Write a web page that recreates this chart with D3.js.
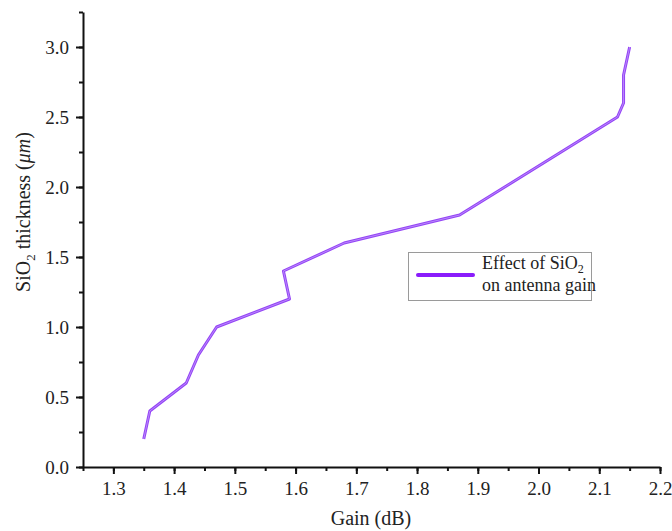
<!DOCTYPE html>
<html>
<head>
<meta charset="utf-8">
<script src="https://cdn.jsdelivr.net/npm/d3@7"></script>
<style>
  body { margin: 0; background: #fff; }
  svg text { font-family: "Liberation Serif", "Times New Roman", serif; fill: #222; }
</style>
</head>
<body>
<div id="chart"></div>
<script>
// gain (dB) vs SiO2 thickness (um)
const gain      = [1.35, 1.36, 1.42, 1.44, 1.47, 1.59, 1.58, 1.68, 1.87, 2.13, 2.14, 2.14, 2.15];
const thickness = [0.2, 0.4, 0.6, 0.8, 1.0, 1.2, 1.4, 1.6, 1.8, 2.5, 2.6, 2.8, 3.0];

const xTicks = [1.3, 1.4, 1.5, 1.6, 1.7, 1.8, 1.9, 2.0, 2.1, 2.2];
const yTicks = [0.0, 0.5, 1.0, 1.5, 2.0, 2.5, 3.0];

const WIDTH = 672;
const HEIGHT = 531;
const SERIF = '"Liberation Serif", "Times New Roman", serif';
const LINE_COLOR = '#9444f6';

document.addEventListener('DOMContentLoaded', function() {
  drawChart();
});

function drawChart()
{
  var svg = d3.select('#chart').append('svg')
    .attr('width', WIDTH)
    .attr('height', HEIGHT);

  var x = d3.scaleLinear().domain([1.25, 2.2]).range([83, 660]);
  var y = d3.scaleLinear().domain([0, 3.25]).range([467, 12]);

  // minor ticks first
  var xMinor = d3.range(1.25, 2.2001, 0.05);
  var yMinor = d3.range(0, 3.2501, 0.25);

  svg.append('g')
    .attr('transform', 'translate(0,467)')
    .call(d3.axisBottom(x).tickValues(xMinor).tickSize(4).tickFormat(''))
    .call(function(g) { g.select('.domain').remove(); })
    .selectAll('line').attr('stroke', '#111').attr('stroke-width', 2);

  svg.append('g')
    .attr('transform', 'translate(83,0)')
    .call(d3.axisLeft(y).tickValues(yMinor).tickSize(4).tickFormat(''))
    .call(function(g) { g.select('.domain').remove(); })
    .selectAll('line').attr('stroke', '#111').attr('stroke-width', 2);

  var xAxis = svg.append('g')
    .attr('transform', 'translate(0,467)')
    .call(d3.axisBottom(x).tickValues(xTicks).tickSize(7).tickPadding(8).tickSizeOuter(0)
      .tickFormat(d3.format('.1f')));

  var yAxis = svg.append('g')
    .attr('transform', 'translate(83,0)')
    .call(d3.axisLeft(y).tickValues(yTicks).tickSize(7).tickPadding(7).tickSizeOuter(0)
      .tickFormat(d3.format('.1f')));

  [xAxis, yAxis].forEach(function(g) {
    g.attr('font-family', null);
    g.select('.domain').attr('stroke', '#111').attr('stroke-width', 2);
    g.selectAll('.tick line').attr('stroke', '#111').attr('stroke-width', 2);
    g.selectAll('.tick text')
      .style('font-family', SERIF)
      .style('font-size', '19px')
      .attr('fill', '#2a2a2a');
  });

  // data line
  var pts = gain.map(function(g, i) { return [g, thickness[i]]; });
  var line = d3.line()
    .x(function(d) { return x(d[0]); })
    .y(function(d) { return y(d[1]); });

  svg.append('path')
    .attr('d', line(pts))
    .attr('fill', 'none')
    .attr('stroke', LINE_COLOR)
    .attr('stroke-width', 3)
    .attr('stroke-linejoin', 'round');

  svg.append('path')
    .attr('d', line(pts))
    .attr('fill', 'none')
    .attr('stroke', '#b987fb')
    .attr('stroke-width', 1)
    .attr('stroke-linejoin', 'round');

  // axis titles
  svg.append('text')
    .attr('x', 371)
    .attr('y', 525)
    .attr('text-anchor', 'middle')
    .style('font-family', SERIF)
    .style('font-size', '20px')
    .text('Gain (dB)');

  var yt = svg.append('text')
    .attr('transform', 'translate(30,212) rotate(-90)')
    .attr('text-anchor', 'middle')
    .style('font-family', SERIF)
    .style('font-size', '20px');
  yt.append('tspan').text('SiO');
  yt.append('tspan').style('font-size', '13px').attr('dy', 5).text('2');
  yt.append('tspan').attr('dy', -5).text(' thickness (');
  yt.append('tspan').attr('font-style', 'italic').text('μm');
  yt.append('tspan').text(')');

  // legend
  var lg = svg.append('g');
  lg.append('rect')
    .attr('x', 408.5).attr('y', 252.5)
    .attr('width', 183).attr('height', 48)
    .attr('fill', '#fff')
    .attr('stroke', '#9a9a9a')
    .attr('stroke-width', 1);
  lg.append('line')
    .attr('x1', 418).attr('x2', 473)
    .attr('y1', 275).attr('y2', 275)
    .attr('stroke', '#8a1cfb')
    .attr('stroke-width', 4)
    .attr('stroke-linecap', 'round');
  var t1 = lg.append('text').attr('x', 482).attr('y', 269)
    .style('font-family', SERIF).style('font-size', '18px');
  t1.append('tspan').text('Effect of SiO');
  t1.append('tspan').style('font-size', '12px').attr('dy', 4).text('2');
  lg.append('text').attr('x', 482).attr('y', 291)
    .style('font-family', SERIF).style('font-size', '18px')
    .text('on antenna gain');
}
</script>
</body>
</html>
